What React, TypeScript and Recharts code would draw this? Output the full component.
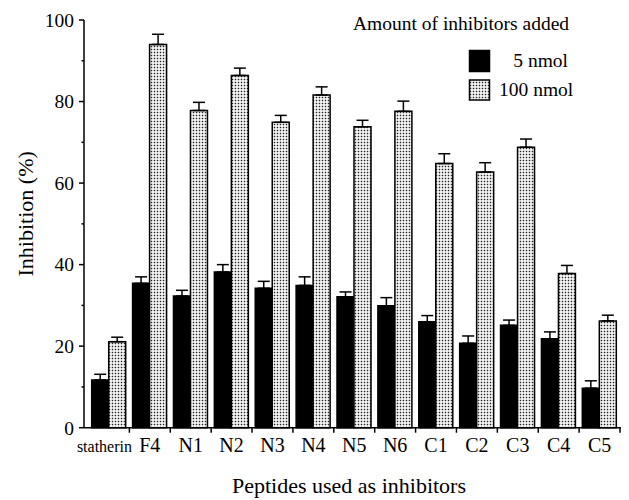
import React from 'react';
import { BarChart, Bar, XAxis, YAxis, ErrorBar, Legend, Label } from 'recharts';

const categories = ['statherin', 'F4', 'N1', 'N2', 'N3', 'N4', 'N5', 'N6', 'C1', 'C2', 'C3', 'C4', 'C5'];
const low5 = [11.7, 35.4, 32.3, 38.2, 34.2, 34.9, 32.1, 29.9, 26.0, 20.7, 25.1, 21.8, 9.7];
const low5Err = [1.4, 1.6, 1.4, 1.8, 1.7, 2.1, 1.2, 2.0, 1.5, 1.8, 1.3, 1.7, 1.8];
const high100 = [21.1, 94.0, 77.8, 86.4, 74.9, 81.6, 73.8, 77.6, 64.8, 62.7, 68.8, 37.8, 26.2];
const high100Err = [1.1, 2.5, 2.0, 1.8, 1.7, 2.0, 1.6, 2.5, 2.4, 2.3, 2.0, 2.0, 1.4];
const yTicks = [0, 10, 20, 30, 40, 50, 60, 70, 80, 90, 100];
const seriesNames = ['5 nmol', '100 nmol'];
const legendTitle = 'Amount of inhibitors added';
const xTitle = 'Peptides used as inhibitors';
const yTitle = 'Inhibition (%)';

const data = categories.map((c, i) => ({
  name: c,
  low: low5[i],
  lowErr: [0, low5Err[i]],
  high: high100[i],
  highErr: [0, high100Err[i]],
}));

const FONT = '"Liberation Serif", "DejaVu Serif", serif';
const fs = (size: number) => ({ fontFamily: FONT, fontSize: size });

const YTick = (props: any) => {
  const { x, y, payload } = props;
  const major = payload.value % 20 === 0;
  return (
    <g>
      <line x1={x - (major ? 5 : 2.5)} x2={x} y1={y} y2={y} stroke="#000" strokeWidth={1.5} />
      {major && (
        <text x={x - 10} y={y} dy="0.35em" textAnchor="end" style={fs(19.5)} fill="#000">
          {payload.value}
        </text>
      )}
    </g>
  );
};

const XTick = (props: any) => {
  const { x, y, payload } = props;
  const off = typeof payload.offset === 'number' && payload.offset > 0 ? payload.offset : 20.44;
  const isStath = payload.value === 'statherin';
  return (
    <g>
      <line x1={x + off} x2={x + off} y1={y} y2={y + 5} stroke="#000" strokeWidth={1.5} />
      <text x={x + (isStath ? -4.5 : 0)} y={y + 24} textAnchor="middle" style={fs(isStath ? 16 : 20)} fill="#000">
        {payload.value}
      </text>
    </g>
  );
};

const XTitle = (props: any) => {
  const vb = props.viewBox || { x: 84, y: 427.7, width: 538, height: 72.3 };
  return (
    <text x={vb.x + vb.width / 2 - 4} y={vb.y + vb.height - 7} textAnchor="middle" style={fs(22)} fill="#000">
      {xTitle}
    </text>
  );
};

const YTitle = (props: any) => {
  const vb = props.viewBox || { x: 0, y: 20, width: 84, height: 407.7 };
  const cx = vb.x + 33;
  const cy = vb.y + vb.height / 2 - 10;
  return (
    <text x={cx} y={cy} transform={`rotate(-90, ${cx}, ${cy})`} textAnchor="middle" style={fs(22)} fill="#000">
      {yTitle}
    </text>
  );
};

const LegendContent = () => (
  <svg width={260} height={110} style={{ display: 'block' }}>
    <defs>
      <pattern id="legendDots" width={3} height={3} patternUnits="userSpaceOnUse">
        <rect width={3} height={3} fill="#fff" />
        <rect x={0.75} y={0.75} width={1.5} height={1.5} fill="#222" />
      </pattern>
    </defs>
    <text x={13} y={30} style={fs(19.5)} fill="#000">{legendTitle}</text>
    <rect x={129.5} y={50.5} width={20} height={21} fill="#000" stroke="#000" strokeWidth={1.5} />
    <text x={228} y={67} textAnchor="end" style={fs(19.5)} fill="#000">{seriesNames[0]}</text>
    <rect x={129.5} y={80} width={20} height={20} fill="url(#legendDots)" stroke="#000" strokeWidth={1.5} />
    <text x={159} y={96} style={fs(19.5)} fill="#000">{seriesNames[1]}</text>
  </svg>
);

export default function App() {
  return (
    <div style={{ position: 'relative', left: -8, top: -8, width: 629, height: 500, background: '#fff', fontFamily: FONT }}>
      <BarChart
        width={629}
        height={500}
        data={data}
        margin={{ top: 20, right: 7, bottom: 0, left: 0 }}
        barCategoryGap={3.2}
        barGap={0}
        style={{ fontFamily: FONT }}
      >
        <defs>
          <pattern id="dots" width={3} height={3} patternUnits="userSpaceOnUse">
            <rect width={3} height={3} fill="#fff" />
            <rect x={0.75} y={0.75} width={1.5} height={1.5} fill="#222" />
          </pattern>
        </defs>
        <XAxis
          dataKey="name"
          height={72.3}
          padding={{ left: 4.5, right: 2 }}
          axisLine={{ stroke: '#000', strokeWidth: 1.5 }}
          tickLine={false}
          tickSize={0}
          tickMargin={0}
          interval={0}
          tick={<XTick />}
        >
          <Label content={<XTitle />} />
        </XAxis>
        <YAxis
          width={84}
          domain={[0, 100]}
          ticks={yTicks}
          interval={0}
          axisLine={{ stroke: '#000', strokeWidth: 1.5 }}
          tickLine={false}
          tickSize={0}
          tickMargin={0}
          tick={<YTick />}
        >
          <Label content={<YTitle />} />
        </YAxis>
        <Legend
          layout="horizontal"
          verticalAlign="middle"
          align="center"
          content={<LegendContent />}
          wrapperStyle={{ position: 'absolute', left: 340, top: 0, width: 260, height: 110 }}
        />
        <Bar dataKey="low" name={seriesNames[0]} fill="#000" stroke="#000" strokeWidth={1.5} isAnimationActive={false}>
          <ErrorBar dataKey="lowErr" width={6} stroke="#000" strokeWidth={1.5} direction="y" isAnimationActive={false} />
        </Bar>
        <Bar dataKey="high" name={seriesNames[1]} fill="url(#dots)" stroke="#000" strokeWidth={1.5} isAnimationActive={false}>
          <ErrorBar dataKey="highErr" width={6} stroke="#000" strokeWidth={1.5} direction="y" isAnimationActive={false} />
        </Bar>
      </BarChart>
    </div>
  );
}
